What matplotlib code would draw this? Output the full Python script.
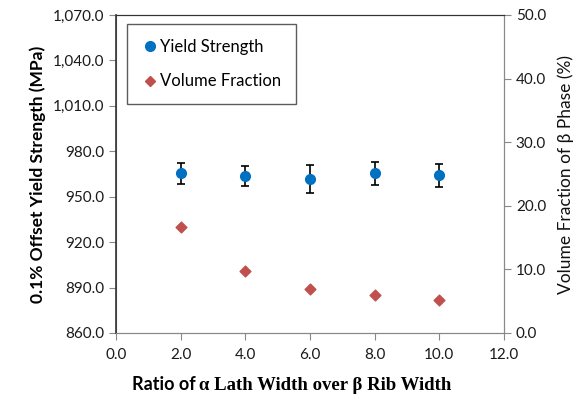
import matplotlib.pyplot as plt
from matplotlib.lines import Line2D
from matplotlib.ticker import FuncFormatter

# data
ratio = [2.0, 4.0, 6.0, 8.0, 10.0]
yield_strength = [965.5, 963.7, 961.8, 965.4, 964.1]
yield_err = [6.8, 6.8, 9.2, 7.8, 7.7]
volume_fraction = [16.6, 9.8, 6.9, 6.0, 5.2]

blue = "#0070C0"
red = "#C0504D"

plt.rcParams["font.family"] = ["Lato", "DejaVu Sans"]

fig = plt.figure(figsize=(5.87, 4.0), dpi=100)
ax = fig.add_axes([116 / 587, 1 - 333 / 400, (504 - 116) / 587, (333 - 15) / 400])
ax2 = ax.twinx()

ax.errorbar(ratio, yield_strength, yerr=yield_err, fmt="o", color=blue,
            markersize=7, ecolor="black", elinewidth=1.2, capsize=3,
            capthick=1.2, zorder=3)
ax2.scatter(ratio, volume_fraction, marker="D", s=30, color=red, zorder=3)

ax.set_xlim(0, 12)
ax.set_ylim(860, 1070)
ax2.set_ylim(0, 50)
ax.set_xticks(range(0, 13, 2))
ax.set_yticks(range(860, 1071, 30))
ax2.set_yticks(range(0, 51, 10))

ax.xaxis.set_major_formatter(FuncFormatter(lambda v, p: f"{v:.1f}"))
ax.yaxis.set_major_formatter(FuncFormatter(lambda v, p: f"{v:,.1f}"))
ax2.yaxis.set_major_formatter(FuncFormatter(lambda v, p: f"{v:.1f}"))

for a in (ax, ax2):
    a.tick_params(direction="out", length=5, width=0.8, color="#888888",
                  labelsize=11, labelcolor="#1a1a1a")
    for s in a.spines.values():
        s.set_color("#888888")
ax.spines["left"].set_color("#333333")
ax.spines["top"].set_color("#333333")
ax2.spines["top"].set_color("#333333")
ax.spines["left"].set_linewidth(1.2)
ax.tick_params(axis="x", pad=6)

ax.set_ylabel("0.1% Offset Yield Strength (MPa)", fontsize=12.5, fontweight="bold", labelpad=5)
ax2.set_ylabel("Volume Fraction of β Phase (%)", fontsize=12.5, labelpad=8, color="#111111")

fig.text(196 / 587, 1 - 385 / 400, "Ratio of", ha="right", va="center",
         fontsize=13, fontweight="bold", family=["Lato"])
fig.text(199 / 587, 1 - 385 / 400, "α Lath Width over β Rib Width", ha="left",
         va="center", fontsize=13.5, fontweight="bold", family=["Liberation Serif"])

handles = [
    Line2D([], [], ls="none", marker="o", color=blue, markersize=7),
    Line2D([], [], ls="none", marker="D", color=red, markersize=5.5),
]
leg = ax.legend(handles, ["Yield Strength", "Volume Fraction"],
                loc="upper left", bbox_to_anchor=(11 / 388, 1 - 9 / 318),
                borderaxespad=0, fontsize=12, frameon=True, fancybox=False,
                handletextpad=0.1, labelspacing=1.1, borderpad=0.9,
                handlelength=1.0)
leg.get_frame().set_edgecolor("#333333")
leg.get_frame().set_linewidth(1.0)
ax2.set_zorder(ax.get_zorder() - 1)
ax.patch.set_visible(False)

fig.savefig("out.png", dpi=100)
